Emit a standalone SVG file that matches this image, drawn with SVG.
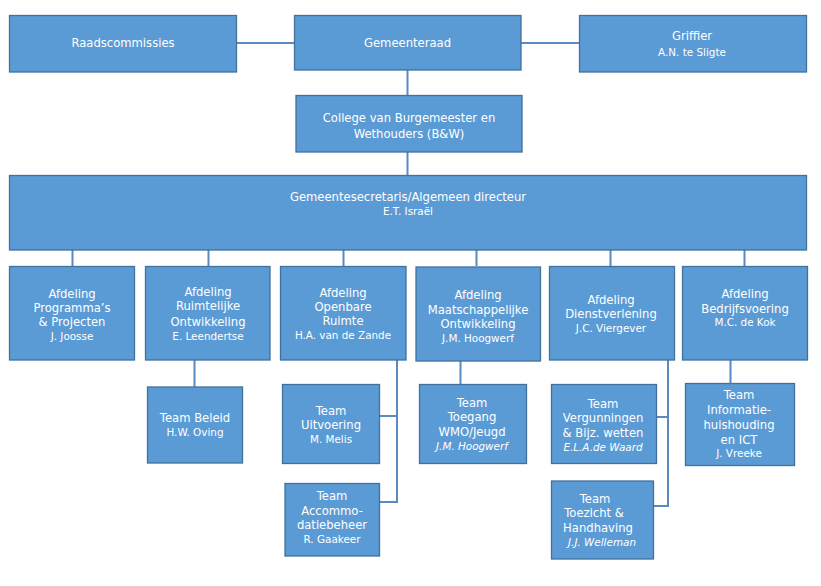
<svg xmlns="http://www.w3.org/2000/svg" width="821" height="586" viewBox="0 0 821 586">
<style>
.box{fill:#5B9BD5;stroke:#41719C;stroke-width:1.3}
.t{font-family:"DejaVu Sans","Verdana",sans-serif;font-size:11.6px;fill:#FFFFFF;text-anchor:middle}
.n{font-size:10.4px}
.i{font-style:italic}
.c{fill:none;stroke:#5A8AC0;stroke-width:2}
</style>
<rect width="821" height="586" fill="#FFFFFF"/>
<g id="connectors">
<path class="c" d="M237 43H294M521 43H579M407.5 70V95M407.5 152V175"/>
<path class="c" d="M72.5 250V266M208.5 250V266M343.5 250V266M476.5 250V266M610.5 250V266M744.5 250V266"/>
<path class="c" d="M194.5 360V387M460.5 360V384M730.5 360V383"/>
<path class="c" d="M397 360V502H379M380 416H397"/>
<path class="c" d="M668 360V506H654M657 417H668"/>
</g>
<g id="raadscommissies"><rect class="box" x="9.5" y="15.5" width="227" height="56.5"/><text class="t" x="123" y="47">Raadscommissies</text></g>
<g id="gemeenteraad"><rect class="box" x="294.5" y="15.5" width="226.5" height="54.5"/><text class="t" x="407.5" y="47">Gemeenteraad</text></g>
<g id="griffier"><rect class="box" x="579.5" y="15.5" width="227" height="56.5"/><text class="t" x="692" y="39.5">Griffier</text><text class="t n" x="692" y="55.5">A.N. te Sligte</text></g>
<g id="college"><rect class="box" x="296" y="95.5" width="226" height="56.5"/><text class="t" x="409" y="121.5">College van Burgemeester en</text><text class="t" x="409" y="138">Wethouders (B&amp;W)</text></g>
<g id="gemeentesecretaris"><rect class="box" x="9.5" y="175.5" width="797" height="74.5"/><text class="t" x="408" y="201">Gemeentesecretaris/Algemeen directeur</text><text class="t n" x="408" y="215">E.T. Israël</text></g>
<g id="afd-programma"><rect class="box" x="9.5" y="266.5" width="125" height="93.5"/><text class="t" x="72" y="297.5">Afdeling</text><text class="t" x="72" y="312">Programma’s</text><text class="t" x="72" y="326">&amp; Projecten</text><text class="t n" x="72" y="340">J. Joosse</text></g>
<g id="afd-ruimtelijke"><rect class="box" x="145.5" y="266.5" width="124.5" height="93.5"/><text class="t" x="208" y="296">Afdeling</text><text class="t" x="208" y="310">Ruimtelijke</text><text class="t" x="208" y="325.5">Ontwikkeling</text><text class="t n" x="208" y="340">E. Leendertse</text></g>
<g id="afd-openbare"><rect class="box" x="280.5" y="266.5" width="125.5" height="93.5"/><text class="t" x="343" y="296.5">Afdeling</text><text class="t" x="343" y="311">Openbare</text><text class="t" x="343" y="325">Ruimte</text><text class="t n" x="343" y="339">H.A. van de Zande</text></g>
<g id="afd-maatschappelijke"><rect class="box" x="416" y="267" width="124.5" height="94"/><text class="t" x="478" y="299">Afdeling</text><text class="t" x="478" y="314">Maatschappelijke</text><text class="t" x="478" y="328">Ontwikkeling</text><text class="t n" x="478" y="342">J.M. Hoogwerf</text></g>
<g id="afd-dienstverlening"><rect class="box" x="549.5" y="266.5" width="125" height="93.5"/><text class="t" x="611" y="304">Afdeling</text><text class="t" x="611" y="318">Dienstverlening</text><text class="t n" x="611" y="332">J.C. Viergever</text></g>
<g id="afd-bedrijfsvoering"><rect class="box" x="682.5" y="266.5" width="125" height="93.5"/><text class="t" x="745" y="297.5">Afdeling</text><text class="t" x="745" y="312.5">Bedrijfsvoering</text><text class="t n" x="745" y="325.5">M.C. de Kok</text></g>
<g id="team-beleid"><rect class="box" x="147.5" y="387" width="95" height="76"/><text class="t" x="195" y="421.5">Team Beleid</text><text class="t n" x="195" y="435.5">H.W. Oving</text></g>
<g id="team-uitvoering"><rect class="box" x="282.5" y="384.5" width="97" height="79"/><text class="t" x="331" y="415">Team</text><text class="t" x="331" y="429">Uitvoering</text><text class="t n" x="331" y="443">M. Melis</text></g>
<g id="team-accommodatiebeheer"><rect class="box" x="285" y="483.5" width="94.5" height="72.5"/><text class="t" x="332" y="500">Team</text><text class="t" x="332" y="515">Accommo-</text><text class="t" x="332" y="529">datiebeheer</text><text class="t n" x="332" y="543">R. Gaakeer</text></g>
<g id="team-toegang"><rect class="box" x="419.5" y="384.5" width="107" height="79"/><text class="t" x="472" y="407">Team</text><text class="t" x="472" y="421">Toegang</text><text class="t" x="472" y="436">WMO/Jeugd</text><text class="t n i" x="472" y="450">J.M. Hoogwerf</text></g>
<g id="team-vergunningen"><rect class="box" x="551.5" y="384.5" width="105" height="79"/><text class="t" x="603" y="407.5">Team</text><text class="t" x="603" y="422">Vergunningen</text><text class="t" x="603" y="436.5">&amp; Bijz. wetten</text><text class="t n i" x="603" y="450.5">E.L.A.de Waard</text></g>
<g id="team-toezicht"><rect class="box" x="551.5" y="481" width="102" height="78"/><text class="t" x="595" y="502.5">Team</text><text class="t" x="594" y="517">Toezicht &amp;</text><text class="t" x="598" y="531.5">Handhaving</text><text class="t n i" x="602" y="546">J.J. Welleman</text></g>
<g id="team-informatie"><rect class="box" x="685.5" y="383.5" width="109" height="82"/><text class="t" x="739" y="399">Team</text><text class="t" x="739" y="414">Informatie-</text><text class="t" x="739" y="428.5">huishouding</text><text class="t" x="739" y="443.5">en ICT</text><text class="t n" x="739" y="457">J. Vreeke</text></g>
</svg>
